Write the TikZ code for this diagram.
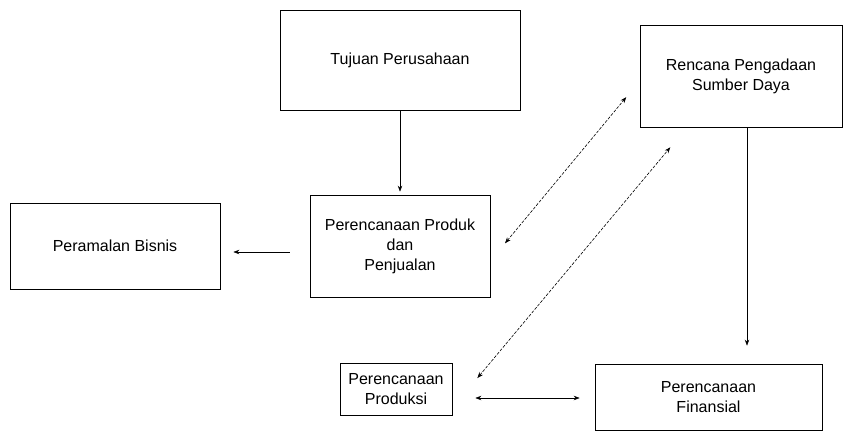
\documentclass[tikz,border=0pt]{standalone}
\usepackage{fontspec}
\setmainfont{Liberation Sans}
\usepackage{tikz}
\usetikzlibrary{arrows.meta}
\usetikzlibrary{positioning}
\tikzset{box/.style = {draw, line width = 0.7pt, align = center,
                       font = \fontsize{16}{20}\selectfont, inner sep = 0}}
\tikzset{tip/.style = {>={Stealth[length = 6pt, width = 4.5pt]}}}
\tikzset{arr/.style = {->, tip, line width = 0.6pt}}
\tikzset{dbl/.style = {<->, tip, line width = 0.6pt}}
\tikzset{diag/.style = {<->, tip, line width = 0.6pt,
                        dash pattern = on 3pt off 1.5pt}}

\begin{document}
\begin{tikzpicture}[x = 1pt, y = -1pt]
      \useasboundingbox (0, 0) rectangle (843, 431);

      \node [box, minimum width = 240, minimum height = 100] (tujuan) at (400, 60) {Tujuan Perusahaan};
      \node [box, minimum width = 202, minimum height = 102] (rencana) at (741, 76) {Rencana Pengadaan\\Sumber Daya};
      \node [box, minimum width = 210, minimum height = 86] (ramal) at (115, 246) {Peramalan Bisnis};
      \node [box, minimum width = 180, minimum height = 102] (produk) at (400, 246) {Perencanaan Produk\\dan\\Penjualan};
      \node [box, minimum width = 112, minimum height = 52] (produksi) at (396, 389) {Perencanaan\\Produksi};
      \node [box, minimum width = 227, minimum height = 66] (finansial) at (708.5, 397) {Perencanaan\\Finansial};

      \draw [arr, shorten >= 3pt] (tujuan) -- (produk);
      \draw [arr, shorten <= 20pt, shorten >= 13pt] ([yshift = -6pt]produk.west) -- ([yshift = -6pt]ramal.east);
      \draw [arr, shorten >= 18pt] ([xshift = 6pt]rencana.south) -- ([xshift = 6pt]rencana.south |- finansial.north);

      \draw [diag, shorten <= 23pt, shorten >= 21pt] ([yshift = -15pt]produk.east) -- ([yshift = -5pt]rencana.west);
      \draw [diag, shorten <= 39pt, shorten >= 26pt] ([yshift = -19pt]produksi.east) -- ([xshift = -54pt]rencana.south);

      \draw [dbl, shorten <= 23pt, shorten >= 15pt] ([yshift = -9pt]produksi.east) -- ([yshift = -9pt]produksi.east -| finansial.west);
    \end{tikzpicture}
\end{document}
